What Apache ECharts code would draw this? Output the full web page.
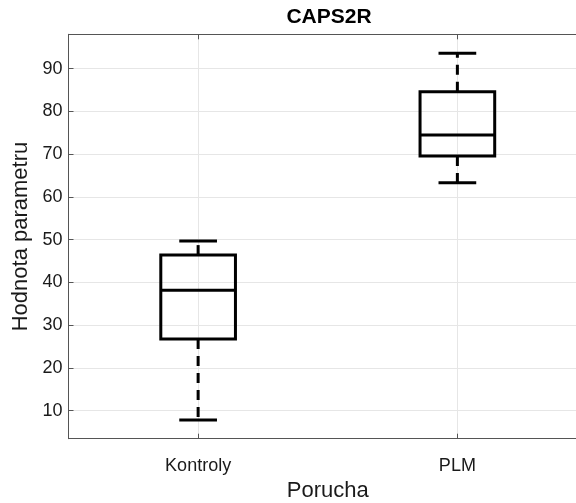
<!DOCTYPE html>
<html>
<head>
<meta charset="utf-8">
<script src="https://cdn.jsdelivr.net/npm/echarts@6/dist/echarts.min.js"></script>
<style>html,body{margin:0;padding:0;background:#fff}#c{width:576px;height:503px}</style>
</head>
<body>
<div id="c"></div>
<script>
const categories = ['Kontroly', 'PLM'];
const lowerWhisker = [7.8, 63.3];
const q1 = [26.8, 69.6];
const median = [38.2, 74.5];
const q3 = [46.4, 84.6];
const upperWhisker = [49.7, 93.6];
const yTicks = [10, 20, 30, 40, 50, 60, 70, 80, 90];
const xTicks = [1, 2];

const FONT = '"Liberation Sans", Arial, Helvetica, sans-serif';
const data = categories.map((c, i) => [i + 1, lowerWhisker[i], q1[i], median[i], q3[i], upperWhisker[i]]);

const chart = echarts.init(document.getElementById('c'), null, {renderer: 'canvas'});

const xCommon = {
  type: 'value', min: 0.5, max: 2.5,
  axisLine: {show: true, lineStyle: {color: '#555555', width: 1}},
  axisTick: {show: true, inside: true, length: 5, customValues: xTicks, lineStyle: {color: '#555555'}},
};

chart.setOption({
  animation: false,
  backgroundColor: '#ffffff',
  title: {
    text: 'CAPS2R', left: 329, top: 7, textAlign: 'center', padding: 0,
    textStyle: {fontFamily: FONT, fontSize: 21, fontWeight: 'bold', color: '#000'}
  },
  grid: {left: 68.5, top: 34.3, right: -11, bottom: 64.3, outerBoundsMode: 'none', containLabel: false},
  xAxis: [
    Object.assign({}, xCommon, {
      position: 'bottom',
      name: 'Porucha', nameLocation: 'middle', nameGap: 39,
      nameTextStyle: {fontFamily: FONT, fontSize: 22, color: '#1a1a1a'},
      axisLabel: {
        show: true, customValues: xTicks, margin: 18,
        fontFamily: FONT, fontSize: 18, color: '#1a1a1a',
        formatter: v => categories[Math.round(v) - 1] || ''
      },
      splitLine: {show: true, lineStyle: {color: '#e6e6e6', width: 1}}
    }),
    Object.assign({}, xCommon, {
      position: 'top',
      axisLabel: {show: false},
      splitLine: {show: false}
    })
  ],
  yAxis: {
    type: 'value', min: 3.45, max: 98.05,
    name: 'Hodnota parametru', nameLocation: 'middle', nameRotate: 90, nameGap: 32,
    nameTextStyle: {fontFamily: FONT, fontSize: 22, color: '#1a1a1a'},
    axisLine: {show: true, lineStyle: {color: '#555555', width: 1}},
    axisTick: {show: true, inside: true, length: 5, customValues: yTicks, lineStyle: {color: '#555555'}},
    axisLabel: {show: true, customValues: yTicks, margin: 6, fontFamily: FONT, fontSize: 18, color: '#1a1a1a'},
    splitLine: {show: true, lineStyle: {color: '#e6e6e6', width: 1}}
  },
  series: [{
    type: 'custom',
    xAxisIndex: 0, yAxisIndex: 0,
    data: data,
    encode: {x: 0, y: [1, 2, 3, 4, 5]},
    renderItem: function (params, api) {
      const x = api.value(0);
      const band = api.size([1, 0])[0];
      const bw = band * 0.288, cw = band * 0.1455;
      const pLo = api.coord([x, api.value(1)]);
      const pQ1 = api.coord([x, api.value(2)]);
      const pMed = api.coord([x, api.value(3)]);
      const pQ3 = api.coord([x, api.value(4)]);
      const pHi = api.coord([x, api.value(5)]);
      const cx = pMed[0];
      const solid = {stroke: '#000', lineWidth: 3, fill: null};
      const dashed = {stroke: '#000', lineWidth: 3, fill: null, lineDash: [10, 7]};
      return {
        type: 'group',
        children: [
          {type: 'line', shape: {x1: cx, y1: pQ3[1], x2: cx, y2: pHi[1]}, style: dashed},
          {type: 'line', shape: {x1: cx, y1: pQ1[1], x2: cx, y2: pLo[1]}, style: dashed},
          {type: 'line', shape: {x1: cx - cw / 2, y1: pHi[1], x2: cx + cw / 2, y2: pHi[1]}, style: solid},
          {type: 'line', shape: {x1: cx - cw / 2, y1: pLo[1], x2: cx + cw / 2, y2: pLo[1]}, style: solid},
          {type: 'rect', shape: {x: cx - bw / 2, y: pQ3[1], width: bw, height: pQ1[1] - pQ3[1]}, style: solid},
          {type: 'line', shape: {x1: cx - bw / 2, y1: pMed[1], x2: cx + bw / 2, y2: pMed[1]}, style: solid}
        ]
      };
    }
  }]
});
</script>
</body>
</html>
